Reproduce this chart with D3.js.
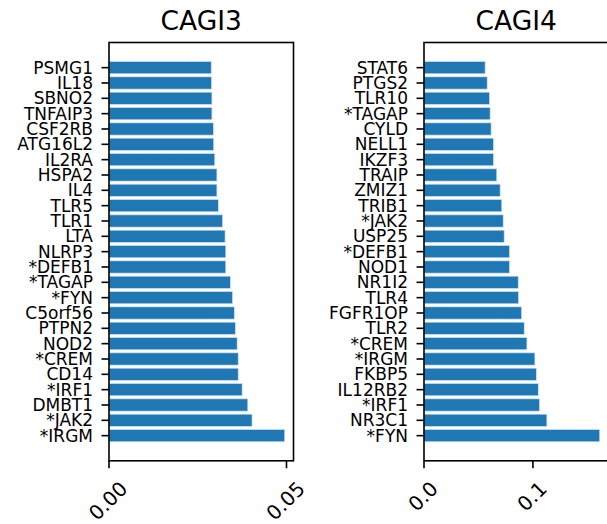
<!DOCTYPE html>
<html>
<head>
<meta charset="utf-8">
<script src="https://cdn.jsdelivr.net/npm/d3@7"></script>
<style>
  body { margin: 0; background: white; }
  text { font-family: "DejaVu Sans", sans-serif; fill: #000; }
</style>
</head>
<body>
<svg id="chart" width="607" height="524"></svg>
<script>
// CAGI3 genes, top to bottom
var cagi3Genes = ["PSMG1", "IL18", "SBNO2", "TNFAIP3", "CSF2RB", "ATG16L2", "IL2RA", "HSPA2", "IL4",
  "TLR5", "TLR1", "LTA", "NLRP3", "*DEFB1", "*TAGAP", "*FYN", "C5orf56", "PTPN2", "NOD2",
  "*CREM", "CD14", "*IRF1", "DMBT1", "*JAK2", "*IRGM"];
var cagi3Values = [0.0288, 0.0289, 0.0290, 0.0290, 0.0294, 0.0295, 0.0298, 0.0304, 0.0304,
  0.0308, 0.0320, 0.0327, 0.0329, 0.0329, 0.0342, 0.0348, 0.0353, 0.0356, 0.0361,
  0.0364, 0.0364, 0.0375, 0.0391, 0.0403, 0.0495];
var cagi3Ticks = [0, 0.05];

// CAGI4 genes, top to bottom
var cagi4Genes = ["STAT6", "PTGS2", "TLR10", "*TAGAP", "CYLD", "NELL1", "IKZF3", "TRAIP", "ZMIZ1",
  "TRIB1", "*JAK2", "USP25", "*DEFB1", "NOD1", "NR1I2", "TLR4", "FGFR1OP", "TLR2", "*CREM",
  "*IRGM", "FKBP5", "IL12RB2", "*IRF1", "NR3C1", "*FYN"];
var cagi4Values = [0.0561, 0.0580, 0.0601, 0.0607, 0.0616, 0.0638, 0.0638, 0.0668, 0.0699,
  0.0714, 0.0727, 0.0736, 0.0785, 0.0785, 0.0865, 0.0868, 0.0896, 0.0920, 0.0945,
  0.1018, 0.1031, 0.1049, 0.1061, 0.1128, 0.1613];
var cagi4Ticks = [0, 0.1];

var barColour = '#1f77b4';
var fontSize = 17;
var xFontSize = 20;
var tickLen = 7.5;

var svg = d3.select("#chart");

function drawPanel(title, genes, values, ticks, fmt, left) {
  var width = 184.5, top = 42.5, bottom = 460.8;
  var n = genes.length;
  var x = d3.scaleLinear().domain([0, d3.max(values) * 1.05]).range([left, left + width]);
  var pad = (n - 0.2) * 0.05;
  var y = d3.scaleLinear().domain([-0.4 - pad, n - 0.6 + pad]).range([top, bottom]);
  var g = svg.append("g");

  g.selectAll("rect.bar")
    .data(values)
    .enter().append("rect")
    .attr("class", "bar")
    .attr("x", x(0))
    .attr("y", function (d, i) { return y(i - 0.4); })
    .attr("width", function (d) { return x(d) - x(0); })
    .attr("height", y(0.8) - y(0))
    .attr("fill", barColour)
    .attr("stroke", "#cfe0ee")
    .attr("stroke-width", 0.7);

  // y ticks + labels
  g.selectAll("line.ytick")
    .data(genes)
    .enter().append("line")
    .attr("x1", left - tickLen).attr("x2", left)
    .attr("y1", function (d, i) { return y(i); })
    .attr("y2", function (d, i) { return y(i); })
    .attr("stroke", "black").attr("stroke-width", 1.6);

  g.selectAll("text.ylab")
    .data(genes)
    .enter().append("text")
    .attr("x", left - 16)
    .attr("y", function (d, i) { return y(i); })
    .attr("text-anchor", "end")
    .attr("dominant-baseline", "central")
    .attr("font-size", fontSize)
    .text(function (d) { return d; });

  // x ticks + rotated labels
  ticks.forEach(function (t) {
    var tx = x(t);
    g.append("line")
      .attr("x1", tx).attr("x2", tx)
      .attr("y1", bottom).attr("y2", bottom + tickLen)
      .attr("stroke", "black").attr("stroke-width", 1.6);
    var lab = g.append("text")
      .attr("text-anchor", "middle")
      .attr("dominant-baseline", "central")
      .attr("font-size", xFontSize)
      .text(fmt(t));
    var w = lab.node().getComputedTextLength();
    var h = xFontSize * 1.17;
    var half = (w + h) / (2 * Math.SQRT2);
    var cy = bottom + tickLen + 8.5 + half;
    lab.attr("transform", "translate(" + (tx - 1) + "," + cy + ") rotate(-45)");
  });

  // frame
  g.append("rect")
    .attr("x", left).attr("y", top)
    .attr("width", width).attr("height", bottom - top)
    .attr("fill", "none")
    .attr("stroke", "black").attr("stroke-width", 1.6);

  g.append("text")
    .attr("x", left + width / 2)
    .attr("y", 29.5)
    .attr("text-anchor", "middle")
    .attr("font-size", 26.5)
    .text(title);
}

drawPanel("CAGI3", cagi3Genes, cagi3Values, cagi3Ticks, d3.format(".2f"), 109);
drawPanel("CAGI4", cagi4Genes, cagi4Values, cagi4Ticks, d3.format(".1f"), 424);
</script>
</body>
</html>
